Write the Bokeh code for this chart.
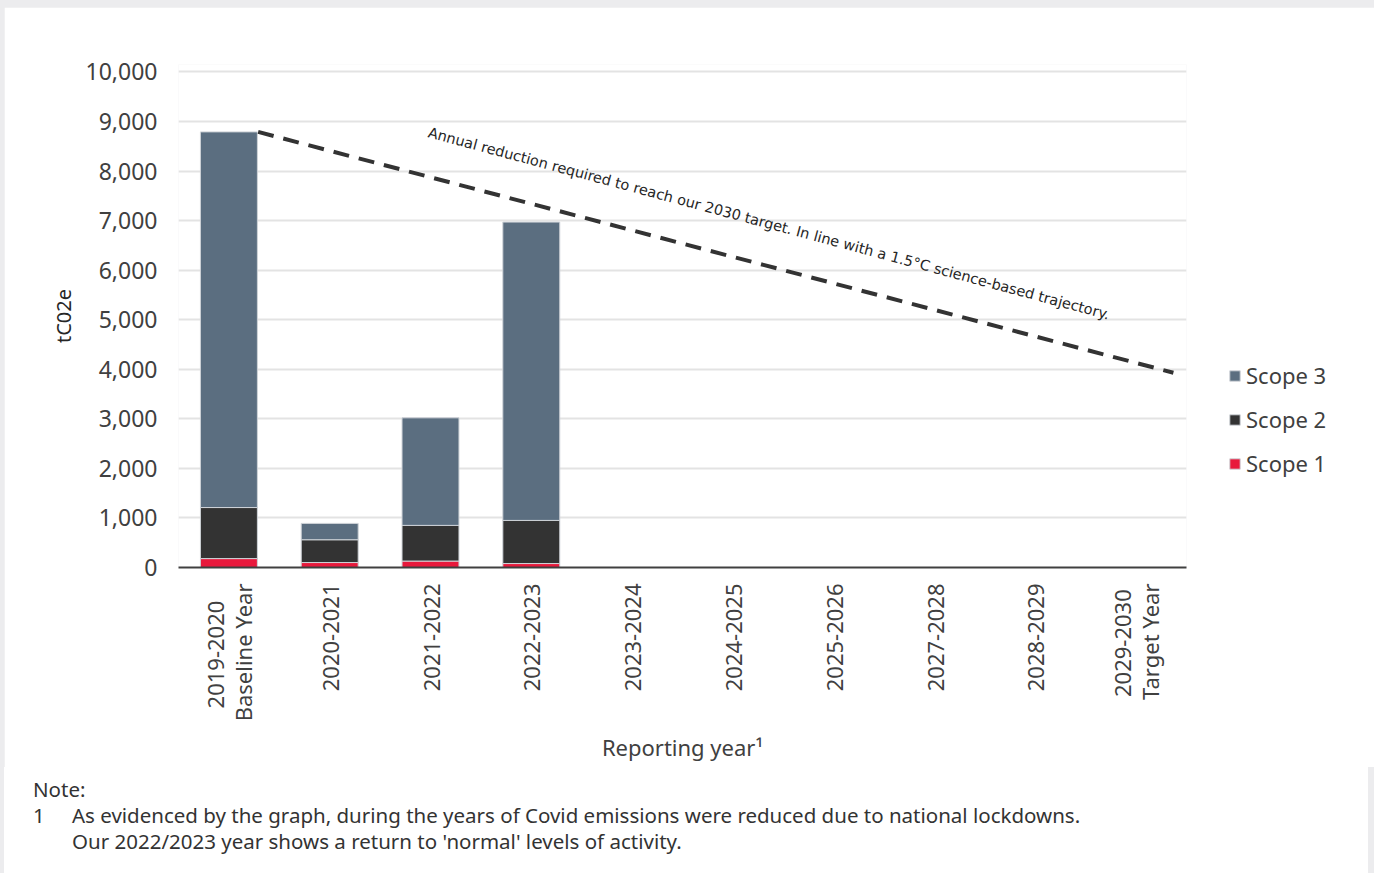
from bokeh.plotting import figure
from bokeh.layouts import column
from bokeh.models import (FactorRange, Range1d, Legend, LegendItem, Label, Div,
                          NumeralTickFormatter, FixedTicker, ColumnDataSource)
from bokeh.embed import file_html
from bokeh.resources import INLINE

# ---------------- data ----------------
years = ["2019-2020", "2020-2021", "2021-2022", "2022-2023", "2023-2024",
         "2024-2025", "2025-2026", "2027-2028", "2028-2029", "2029-2030"]
year_notes = {"2019-2020": "Baseline Year", "2029-2030": "Target Year"}
scope1 = [180, 100, 130, 80, 0, 0, 0, 0, 0, 0]
scope2 = [1030, 460, 720, 870, 0, 0, 0, 0, 0, 0]
scope3 = [7580, 330, 2170, 6020, 0, 0, 0, 0, 0, 0]
series_names = ["Scope 1", "Scope 2", "Scope 3"]
series_colors = ["#e8193c", "#333333", "#5b6e80"]
y_ticks = [0, 1000, 2000, 3000, 4000, 5000, 6000, 7000, 8000, 9000, 10000]
trajectory_years = ["2019-2020", "2029-2030"]
trajectory_offsets = [0.29, 0.37]
trajectory_values = [8790, 3930]
trajectory_text = ("Annual reduction required to reach our 2030 target. "
                   "In line with a 1.5\u00b0C science-based trajectory.")
x_title = "Reporting year\u00b9"
y_title = "tC02e"
note_title = "Note:"
note_num = "1"
note_lines = ["As evidenced by the graph, during the years of Covid emissions were reduced due to national lockdowns.",
              "Our 2022/2023 year shows a return to 'normal' levels of activity."]

FONT = "Noto Sans"
TXT = "#404040"

# two-line category labels (first line padded so it sits centred on the second)
pad = {"2019-2020": 3, "2029-2030": 1}
factors = [f"{y}{chr(160) * pad[y]}\n{year_notes[y]}" if y in year_notes else y for y in years]
fmap = dict(zip(years, factors))

src = ColumnDataSource(dict(year=factors, s1=scope1, s2=scope2, s3=scope3))

p = figure(frame_width=1008, frame_height=503, output_backend="svg", toolbar_location=None,
           x_range=FactorRange(*factors, range_padding=0),
           y_range=Range1d(0, 10150),
           min_border_left=174, min_border_right=100,
           min_border_top=57, min_border_bottom=200,
           margin=(7, 6, 0, 4))
p.outline_line_color = None
p.background_fill_color = "white"
p.border_fill_color = "white"

rs = p.vbar_stack(["s1", "s2", "s3"], x="year", width=0.565, source=src,
                  color=series_colors, line_color="#cfd3d8", line_width=1)

# trajectory
tx = [(fmap[y], o) for y, o in zip(trajectory_years, trajectory_offsets)]
p.line(x=tx, y=trajectory_values, line_color="#333333", line_width=4,
       line_dash="16 10")

p.add_layout(Label(x=2.5, y=8940, text=trajectory_text, angle=-0.262,
                   text_font="DejaVu Sans", text_font_size="14.5px",
                   text_color="#262626", text_baseline="top", text_align="left"))

# axes
p.xgrid.grid_line_color = None
p.ygrid.grid_line_color = "#e3e3e3"
p.ygrid.grid_line_width = 2

p.yaxis.ticker = FixedTicker(ticks=y_ticks)
p.yaxis.formatter = NumeralTickFormatter(format="0,0")
p.yaxis.axis_line_color = None
p.yaxis.major_tick_line_color = None
p.yaxis.minor_tick_line_color = None
p.yaxis.major_label_standoff = 15
p.yaxis.major_label_text_font = FONT
p.yaxis.major_label_text_font_size = "23px"
p.yaxis.major_label_text_color = TXT
p.yaxis.axis_label = y_title
p.yaxis.axis_label_text_font = FONT
p.yaxis.axis_label_text_font_size = "20px"
p.yaxis.axis_label_text_font_style = "normal"
p.yaxis.axis_label_text_color = "#262626"
p.yaxis.axis_label_standoff = 6

p.xaxis.axis_line_color = "#404040"
p.xaxis.axis_line_width = 2
p.xaxis.major_tick_line_color = None
p.xaxis.minor_tick_line_color = None
p.xaxis.major_tick_out = 0
p.xaxis.major_label_orientation = 1.5708
p.xaxis.major_label_standoff = 16
p.xaxis.major_label_text_font = FONT
p.xaxis.major_label_text_font_size = "22px"
p.xaxis.major_label_text_line_height = 0.95
p.xaxis.major_label_text_color = TXT
p.xaxis.axis_label = x_title
p.xaxis.axis_label_text_font = FONT
p.xaxis.axis_label_text_font_size = "22px"
p.xaxis.axis_label_text_font_style = "normal"
p.xaxis.axis_label_text_color = TXT
p.xaxis.axis_label_standoff = 8

# legend (Scope 3 on top), placed in the right-hand panel
items = [LegendItem(label=series_names[i], renderers=[rs[i]]) for i in (2, 1, 0)]
leg = Legend(items=items, location=(42, 89), padding=0, margin=0,
             glyph_width=13, glyph_height=13, label_standoff=5,
             label_height=30, spacing=14, border_line_color=None,
             background_fill_alpha=0,
             label_text_font=FONT, label_text_font_size="22px",
             label_text_color=TXT)
p.add_layout(leg, "right")

# notes under the chart
note_html = (
    f"{note_title}<br>"
    f"<span style='display:inline-block;width:39px'>{note_num}</span>{note_lines[0]}<br>"
    f"<span style='display:inline-block;width:39px'></span>{note_lines[1]}"
)
notes = Div(text=note_html, width=1364, height=106, margin=(0, 6, 0, 4),
            styles={"font-family": FONT, "font-size": "20.5px", "color": "#333333",
                    "line-height": "26px", "white-space": "nowrap",
                    "background-color": "white", "box-sizing": "border-box",
                    "padding": "9px 0 0 29px"})

page = column(p, notes, spacing=0, styles={"background-color": "#ececee"})
open("out.html", "w").write(file_html(page, INLINE))
